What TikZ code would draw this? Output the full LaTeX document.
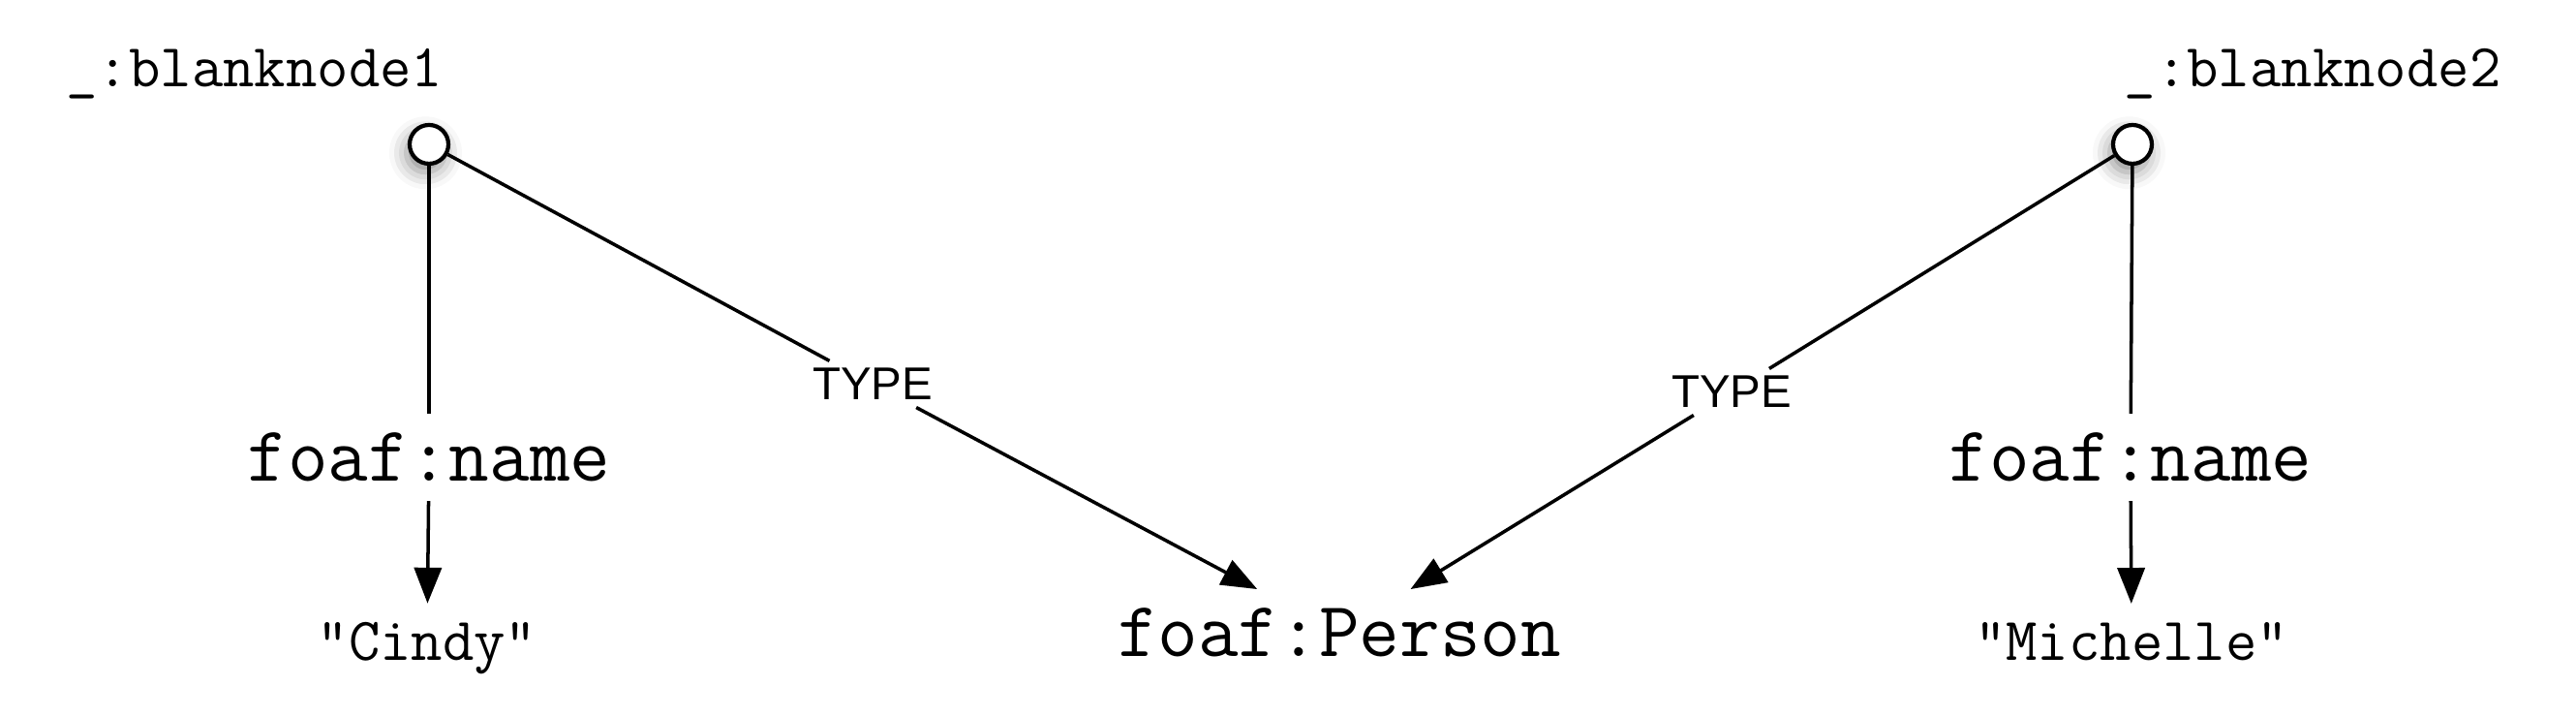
\documentclass[tikz,border=0pt]{standalone}
\usepackage{fontspec}
\newfontfamily\typefont{Liberation Sans}
\usetikzlibrary{positioning,arrows.meta,shadows.blur}

\begin{document}
\begin{tikzpicture}[
    bnode/.style={circle, draw, fill=white, line width=1.2pt, minimum size=0.40cm, inner sep=0pt,
      blur shadow={shadow xshift=-1pt, shadow yshift=-2.5pt, shadow blur radius=5pt, shadow opacity=45}},
    bname/.style={font=\ttfamily\fontsize{17.9}{20}\selectfont, inner sep=0pt},
    term/.style={font=\ttfamily\fontsize{23}{26}\selectfont, inner sep=5.5pt},
    lit/.style={font=\ttfamily\fontsize{17.9}{20}\selectfont, inner sep=5.5pt},
    rel/.style={font=\typefont\fontsize{13.5}{15}\selectfont, fill=white, inner sep=2pt},
    link/.style={line width=1pt},
    flow/.style={-{Triangle[length=10.5pt,width=8pt]}, line width=1pt},
]
  \useasboundingbox (0,0) rectangle (26.6,7.4);

  % blank nodes
  \node[bnode] (b1) at (4.43,5.91) {};
  \node[bnode] (b2) at (22.02,5.91) {};
  \node[bname, anchor=base east] (l1) at (4.58,6.50) {\_:blanknode1};
  \node[bname, anchor=base west] (l2) at (21.93,6.50) {\_:blanknode2};

  \node[term] (n1) at (4.43,2.68) {foaf:name};
  \node[term] (n2) at (22.00,2.68) {foaf:name};
  \node[term, anchor=base] (person) at (13.83,0.62) {foaf:Person};

  \node[lit, anchor=base] (cindy) at (4.41,0.58) {"Cindy"};
  \node[lit, anchor=base] (michelle) at (22.01,0.58) {"Michelle"};

  \node[rel] (t1) at (9.01,3.435) {TYPE};
  \node[rel] (t2) at (17.88,3.355) {TYPE};

  \draw[link] (b1) -- (n1);
  \draw[flow] (n1) -- (cindy);
  \draw[link] (b2) -- (n2);
  \draw[flow] (n2) -- (michelle);

  \draw[link] (b1) -- (t1);
  \draw[flow] (t1) -- (person);
  \draw[link] (b2) -- (t2);
  \draw[flow] (t2) -- (person);
\end{tikzpicture}
\end{document}
